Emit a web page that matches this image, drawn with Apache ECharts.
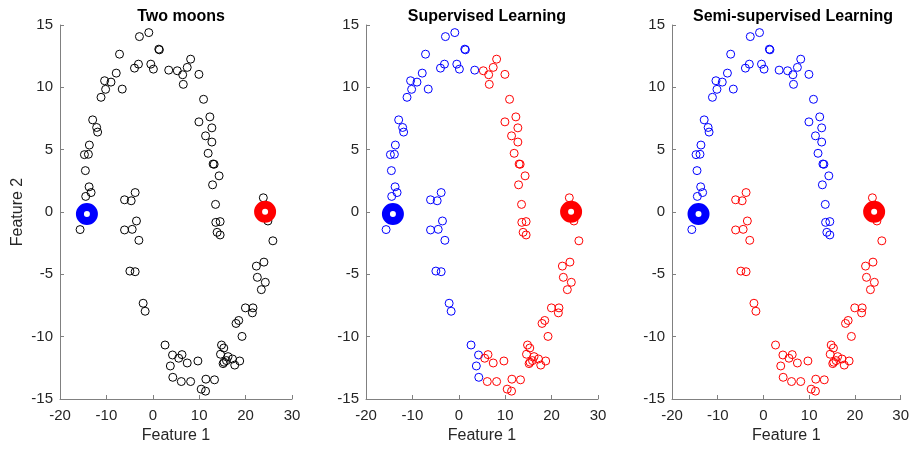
<!DOCTYPE html>
<html>
<head>
<meta charset="utf-8">
<script src="https://cdn.jsdelivr.net/npm/echarts@6/dist/echarts.min.js"></script>
<style>
  html, body { margin: 0; padding: 0; background: #fff; }
  #chart { width: 912px; height: 450px; }
</style>
</head>
<body>
<div id="chart"></div>
<script>
// Two-moons sample points (upper moon first, then lower moon)
const featureX = [
  -0.86, -2.88, 1.29, 1.42, -7.17, -3.09, -3.95, -0.43, 0.13, 3.43,
  5.28, 8.15, 7.42, 6.44, 6.57, 9.94, 10.94, 12.30, 9.94, 12.73,
  11.37, 12.73, 11.93, 13.00, 13.22, 14.29, 12.88, 13.52, 13.58, 14.51,
  13.86, 14.51,
  -10.39, -9.01, -7.88, -10.17, -6.59, -11.16, -12.96, -12.10, -11.89, -13.67,
  -14.74, -13.88, -14.53, -13.73, -13.30, -14.46, -15.67,
  -6.09, -4.66, -3.80, -3.52, -6.09, -4.44, -3.00, -4.94, -3.80, -2.08,
  -1.65, 2.64, 4.25, 3.78, 4.31, 6.29, 5.58, 7.42, 9.72, 6.14,
  8.15, 11.44, 13.30, 10.43, 11.37, 14.81, 15.30, 14.59, 16.22, 17.17,
  18.73, 17.66, 15.36, 15.15, 15.88, 19.23, 17.94, 18.52, 19.96, 21.59,
  21.46, 23.39, 22.53, 24.25, 22.32, 23.95, 25.88, 24.81, 23.82
];
const featureY = [
  14.39, 14.07, 13.06, 13.01, 12.66, 11.86, 11.54, 11.86, 11.46, 11.38,
  11.33, 12.26, 11.60, 11.01, 10.24, 11.04, 9.04, 7.63, 7.23, 6.75,
  6.11, 5.61, 4.71, 3.85, 3.83, 2.90, 2.18, 0.61, -0.83, -0.77,
  -1.63, -1.84,
  10.53, 10.42, 11.14, 9.84, 9.86, 9.20, 7.39, 6.78, 6.41, 5.37,
  4.60, 4.63, 3.32, 2.02, 1.56, 1.25, -1.41,
  0.98, 0.90, 1.56, -0.72, -1.44, -1.39, -2.27, -4.74, -4.79, -7.32,
  -7.96, -10.67, -11.47, -12.35, -13.26, -11.44, -11.73, -12.11, -11.95, -13.60,
  -13.60, -13.41, -13.46, -14.21, -14.37, -10.67, -10.91, -11.41, -11.60, -11.79,
  -11.95, -12.28, -12.05, -12.16, -11.92, -9.98, -8.94, -8.70, -7.69, -7.69,
  -8.09, -6.23, -5.24, -5.64, -4.34, -4.02, -2.31, -0.72, 1.14
];
// Class assigned to each point (0 = blue class, 1 = red class)
const supervisedClass = [
  0, 0, 0, 0, 0, 0, 0, 0, 0, 0,
  1, 1, 1, 1, 1, 1, 1, 1, 1, 1, 1, 1, 1, 1, 1, 1, 1, 1, 1, 1, 1, 1,
  0, 0, 0, 0, 0, 0, 0, 0, 0, 0, 0, 0, 0, 0, 0, 0, 0,
  0, 0, 0, 0, 0, 0, 0, 0, 0, 0, 0, 0, 0, 0, 0,
  1, 1, 1, 1, 1, 1, 1, 1, 1, 1, 1, 1, 1, 1, 1, 1, 1,
  1, 1, 1, 1, 1, 1, 1, 1, 1, 1, 1, 1, 1, 1, 1, 1, 1
];
const semiClass = [
  0, 0, 0, 0, 0, 0, 0, 0, 0, 0, 0, 0, 0, 0, 0, 0, 0, 0, 0, 0,
  0, 0, 0, 0, 0, 0, 0, 0, 0, 0, 0, 0, 0, 0, 0, 0, 0, 0, 0, 0,
  0, 0, 0, 0, 0, 0, 0, 0, 0,
  1, 1, 1, 1, 1, 1, 1, 1, 1, 1, 1, 1, 1, 1, 1, 1, 1, 1, 1, 1,
  1, 1, 1, 1, 1, 1, 1, 1, 1, 1, 1, 1, 1, 1, 1, 1, 1, 1, 1, 1,
  1, 1, 1, 1, 1, 1, 1, 1, 1
];
// The two labelled seed points
const seedX = [-14.2, 24.2];
const seedY = [-0.16, 0.02];
const seedClass = [0, 1];

const panelTitles = ['Two moons', 'Supervised Learning', 'Semi-supervised Learning'];
const xTicks = { min: -20, max: 30, step: 10 };
const yTicks = { min: -15, max: 15, step: 5 };

const classColors = ['#0000ff', '#ff0000'];
const FONT = 'Liberation Sans, Arial, Helvetica, sans-serif';

const panelLeft = [60, 366, 672];
const panelWidth = 232;
const panelTop = 25;
const panelHeight = 374;

function pointsOf(classes, cls) {
  const out = [];
  for (let i = 0; i < featureX.length; i++) {
    if (classes === null || classes[i] === cls) out.push([featureX[i], featureY[i]]);
  }
  return out;
}

function openCircles(idx, data, color) {
  return {
    type: 'scatter', xAxisIndex: idx, yAxisIndex: idx, data: data,
    symbol: 'circle', symbolSize: 8, z: 2, silent: true,
    itemStyle: { color: 'rgba(0,0,0,0)', borderColor: color, borderWidth: 1, opacity: 1 }
  };
}

function seedRing(idx, k) {
  return {
    type: 'scatter', xAxisIndex: idx, yAxisIndex: idx,
    data: [[seedX[k], seedY[k]]],
    symbol: 'circle', symbolSize: 14, z: 5, silent: true,
    itemStyle: { color: '#ffffff', borderColor: classColors[seedClass[k]], borderWidth: 8, opacity: 1 }
  };
}

const grids = [], xAxes = [], yAxes = [], titles = [], series = [];
for (let p = 0; p < 3; p++) {
  grids.push({ left: panelLeft[p], top: panelTop, width: panelWidth, height: panelHeight });
  titles.push({
    text: panelTitles[p], left: panelLeft[p] + panelWidth / 2, top: 4, textAlign: 'center',
    textStyle: { fontFamily: FONT, fontSize: 16, fontWeight: 'bold', color: '#000' }
  });
  const axisCommon = {
    axisLine: { show: true, onZero: false, lineStyle: { color: '#808080', width: 1 } },
    axisTick: { show: true, inside: true, length: 4, lineStyle: { color: '#808080' } },
    splitLine: { show: false },
    axisLabel: { fontFamily: FONT, fontSize: 15, color: '#262626' },
    nameTextStyle: { fontFamily: FONT, fontSize: 16, color: '#262626' }
  };
  xAxes.push(Object.assign({}, axisCommon, {
    type: 'value', gridIndex: p, min: xTicks.min, max: xTicks.max, interval: xTicks.step,
    name: 'Feature 1', nameLocation: 'middle', nameGap: 29,
    axisLabel: Object.assign({}, axisCommon.axisLabel, { margin: 9 })
  }));
  yAxes.push(Object.assign({}, axisCommon, {
    type: 'value', gridIndex: p, min: yTicks.min, max: yTicks.max, interval: yTicks.step,
    name: p === 0 ? 'Feature 2' : '', nameLocation: 'middle', nameGap: 34,
    axisLabel: Object.assign({}, axisCommon.axisLabel, { margin: 7 })
  }));
}

// Panel 1: unlabelled data
series.push(openCircles(0, pointsOf(null), '#000000'));
// Panel 2: supervised classification
series.push(openCircles(1, pointsOf(supervisedClass, 0), classColors[0]));
series.push(openCircles(1, pointsOf(supervisedClass, 1), classColors[1]));
// Panel 3: semi-supervised classification
series.push(openCircles(2, pointsOf(semiClass, 0), classColors[0]));
series.push(openCircles(2, pointsOf(semiClass, 1), classColors[1]));
for (let p = 0; p < 3; p++) {
  series.push(seedRing(p, 0));
  series.push(seedRing(p, 1));
}

const chart = echarts.init(document.getElementById('chart'), null, { renderer: 'canvas' });
chart.setOption({
  animation: false,
  backgroundColor: '#ffffff',
  title: titles,
  grid: grids,
  xAxis: xAxes,
  yAxis: yAxes,
  series: series
});
</script>
</body>
</html>
